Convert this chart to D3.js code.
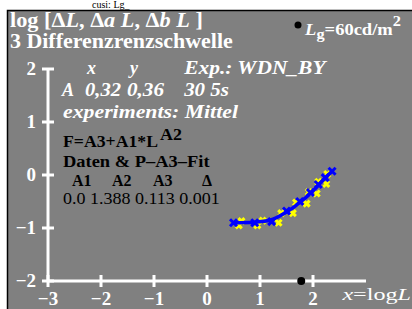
<!DOCTYPE html>
<html lang="en">
<head>
    <meta charset="UTF-8">
    <title>Differenzschwelle</title>
    <script src="https://d3js.org/d3.v7.min.js"></script>
    <style>
        body { margin: 0; padding: 0; background: #fff; }
        svg { display: block; }
        text { font-family: 'Liberation Serif', 'Times New Roman', serif; }
        .w { fill: #fff; font-weight: bold; }
        .k { fill: #000; font-weight: bold; }
    </style>
</head>
<body>
    <svg width="412" height="309"></svg>
    <script>
        // data
        const xTicks = [-3, -2, -1, 0, 1, 2];
        const yTicks = [-2, -1, 0, 1, 2];
        const dataX = [0.5, 0.9, 1.22, 1.5, 1.75, 1.95, 2.1, 2.23, 2.36];
        const dataY = [-0.9, -0.9, -0.88, -0.68, -0.5, -0.33, -0.18, -0.05, 0.07];
        const upX = [0.65, 1.05, 1.4, 1.68, 1.92, 2.1, 2.27];
        const upY = [-0.87, -0.86, -0.72, -0.52, -0.32, -0.13, 0.02];
        const loX = [0.6, 0.95, 1.35, 1.62, 1.88, 2.07, 2.25];
        const loY = [-0.95, -0.95, -0.9, -0.72, -0.54, -0.35, -0.17];
        const fitX = [0.5, 0.9, 1.2, 1.5, 1.75, 2.0, 2.2, 2.36];
        const fitY = [-0.9, -0.89, -0.85, -0.7, -0.52, -0.3, -0.09, 0.07];
        const paramNames = ["A1", "A2", "A3", "\u0394"];
        const paramValues = ["0.0", "1.388", "0.113", "0.001"];
        const logLg = 1.778;

        const svg = d3.select("svg");

        const x = d3.scaleLinear().domain([-3, 3]).range([48, 366]);
        const y = d3.scaleLinear().domain([-2, 2]).range([281, 69]);

        // widen a text element so it spans from its x to 'right'
        function stretch(t, right) {
            const b = t.node().getBBox();
            const sx = (right - b.x) / b.width;
            t.attr("transform", `translate(${b.x},0) scale(${sx},1) translate(${-b.x},0)`);
            return t;
        }

        // background panel
        svg.append("rect").attr("x", 7.5).attr("y", 10.5).attr("width", 410).attr("height", 305)
            .attr("fill", "#808080").attr("stroke", "#000").attr("stroke-width", 1.5);

        svg.append("text").attr("x", 92).attr("y", 8).attr("font-size", 10)
            .attr("fill", "#000").text("cusi: Lg_");

        // axes
        svg.append("line").attr("x1", x(-3)).attr("x2", x(3)).attr("y1", y(-2)).attr("y2", y(-2))
            .attr("stroke", "#fff").attr("stroke-width", 3);
        svg.append("line").attr("x1", x(-3)).attr("x2", x(-3)).attr("y1", y(-2)).attr("y2", y(2))
            .attr("stroke", "#fff").attr("stroke-width", 3);

        svg.selectAll(".xt").data(xTicks).enter().append("line")
            .attr("x1", d => x(d)).attr("x2", d => x(d))
            .attr("y1", y(-2) - 6).attr("y2", y(-2) + 6)
            .attr("stroke", "#fff").attr("stroke-width", 3);
        svg.selectAll(".yt").data(yTicks).enter().append("line")
            .attr("x1", x(-3) - 6).attr("x2", x(-3) + 6)
            .attr("y1", d => y(d)).attr("y2", d => y(d))
            .attr("stroke", "#fff").attr("stroke-width", 3);

        const minus = d => (d < 0 ? "\u2212" + Math.abs(d) : "" + d);

        svg.selectAll(".xl").data(xTicks).enter().append("text").attr("class", "w")
            .attr("x", d => x(d)).attr("y", 305).attr("text-anchor", "middle")
            .attr("font-size", 19).text(minus);
        svg.selectAll(".yl").data(yTicks).enter().append("text").attr("class", "w")
            .attr("x", 36).attr("y", d => y(d) + 6).attr("text-anchor", "end")
            .attr("font-size", 19).text(minus);

        // x label
        const xl = svg.append("text").attr("x", 342).attr("y", 300).attr("font-size", 17).attr("fill", "#fff");
        xl.append("tspan").attr("font-style", "italic").text("x");
        xl.append("tspan").text("=log");
        xl.append("tspan").attr("font-style", "italic").text("L");
        stretch(xl, 411);

        // titles
        const t1 = svg.append("text").attr("class", "w").attr("x", 10).attr("y", 27).attr("font-size", 20);
        t1.append("tspan").text("log [\u0394");
        t1.append("tspan").attr("font-style", "italic").text("L");
        t1.append("tspan").text(",  \u0394");
        t1.append("tspan").attr("font-style", "italic").text("a L");
        t1.append("tspan").text(", \u0394");
        t1.append("tspan").attr("font-style", "italic").text("b L");
        t1.append("tspan").text(" ]");
        stretch(t1, 203);

        stretch(svg.append("text").attr("class", "w").attr("x", 10).attr("y", 48).attr("font-size", 20)
            .text("3 Differenzrenzschwelle"), 233);

        // luminance label
        svg.append("circle").attr("cx", 298).attr("cy", 25).attr("r", 3.5).attr("fill", "#000");
        const lg = svg.append("text").attr("class", "w").attr("x", 305).attr("y", 35).attr("font-size", 17);
        lg.append("tspan").attr("font-style", "italic").text("L");
        lg.append("tspan").attr("dy", 4).attr("font-size", 15).text("g");
        lg.append("tspan").attr("dy", -4).text("=60cd/m");
        lg.append("tspan").attr("dy", -9).attr("font-size", 15).text("2");
        stretch(lg, 401);

        // experiment info
        const info = svg.append("g").attr("font-style", "italic").attr("font-size", 18);
        info.append("text").attr("class", "w").attr("x", 87).attr("y", 74).text("x");
        info.append("text").attr("class", "w").attr("x", 130).attr("y", 74).text("y");
        stretch(info.append("text").attr("class", "w").attr("x", 184).attr("y", 74).text("Exp.: WDN_BY"), 328);
        info.append("text").attr("class", "w").attr("x", 62).attr("y", 96).text("A");
        stretch(info.append("text").attr("class", "w").attr("x", 85).attr("y", 96).text("0,32"), 121);
        stretch(info.append("text").attr("class", "w").attr("x", 127).attr("y", 96).text("0,36"), 164);
        stretch(info.append("text").attr("class", "w").attr("x", 184).attr("y", 96).text("30 5s"), 229);
        stretch(info.append("text").attr("class", "w").attr("x", 63).attr("y", 118).text("experiments: Mittel"), 238);

        const f = svg.append("text").attr("class", "k").attr("x", 63).attr("y", 147).attr("font-size", 17);
        f.append("tspan").text("F=A3+A1*L");
        stretch(f, 158);
        stretch(svg.append("text").attr("class", "k").attr("x", 160).attr("y", 140).attr("font-size", 17)
            .text("A2"), 182);
        stretch(svg.append("text").attr("class", "k").attr("x", 63).attr("y", 167).attr("font-size", 17)
            .text("Daten & P\u2013A3\u2013Fit"), 210);
        const headX = [72, 112, 153, 202];
        svg.selectAll(".hd").data(paramNames).enter().append("text").attr("class", "k")
            .attr("x", (d, i) => headX[i]).attr("y", 186).attr("font-size", 16).text(d => d);
        stretch(svg.append("text").attr("x", 63).attr("y", 204).attr("font-size", 16).attr("fill", "#000")
            .text(paramValues.join(" ")), 220);

        // markers
        const cross = (g, xs, ys, color, s, w) => {
            g.selectAll(null).data(xs).enter().append("path")
                .attr("d", (d, i) => {
                    const cx = x(d), cy = y(ys[i]);
                    return `M${cx - s},${cy - s}L${cx + s},${cy + s}M${cx - s},${cy + s}L${cx + s},${cy - s}`;
                })
                .attr("stroke", color).attr("stroke-width", w).attr("fill", "none");
        };
        const marks = svg.append("g");
        cross(marks, upX, upY, "#ff0", 3, 3);
        cross(marks, loX, loY, "#ff0", 3, 3);

        const fitLine = d3.line().x(d => x(d[0])).y(d => y(d[1])).curve(d3.curveMonotoneX);
        svg.append("path").attr("d", fitLine(fitX.map((d, i) => [d, fitY[i]])))
            .attr("stroke", "#00f").attr("stroke-width", 3.5).attr("fill", "none");

        cross(svg.append("g"), dataX, dataY, "#00f", 3.5, 3);

        // Lg point on axis
        svg.append("circle").attr("cx", x(logLg)).attr("cy", y(-2)).attr("r", 4).attr("fill", "#000");
    </script>
</body>
</html>
